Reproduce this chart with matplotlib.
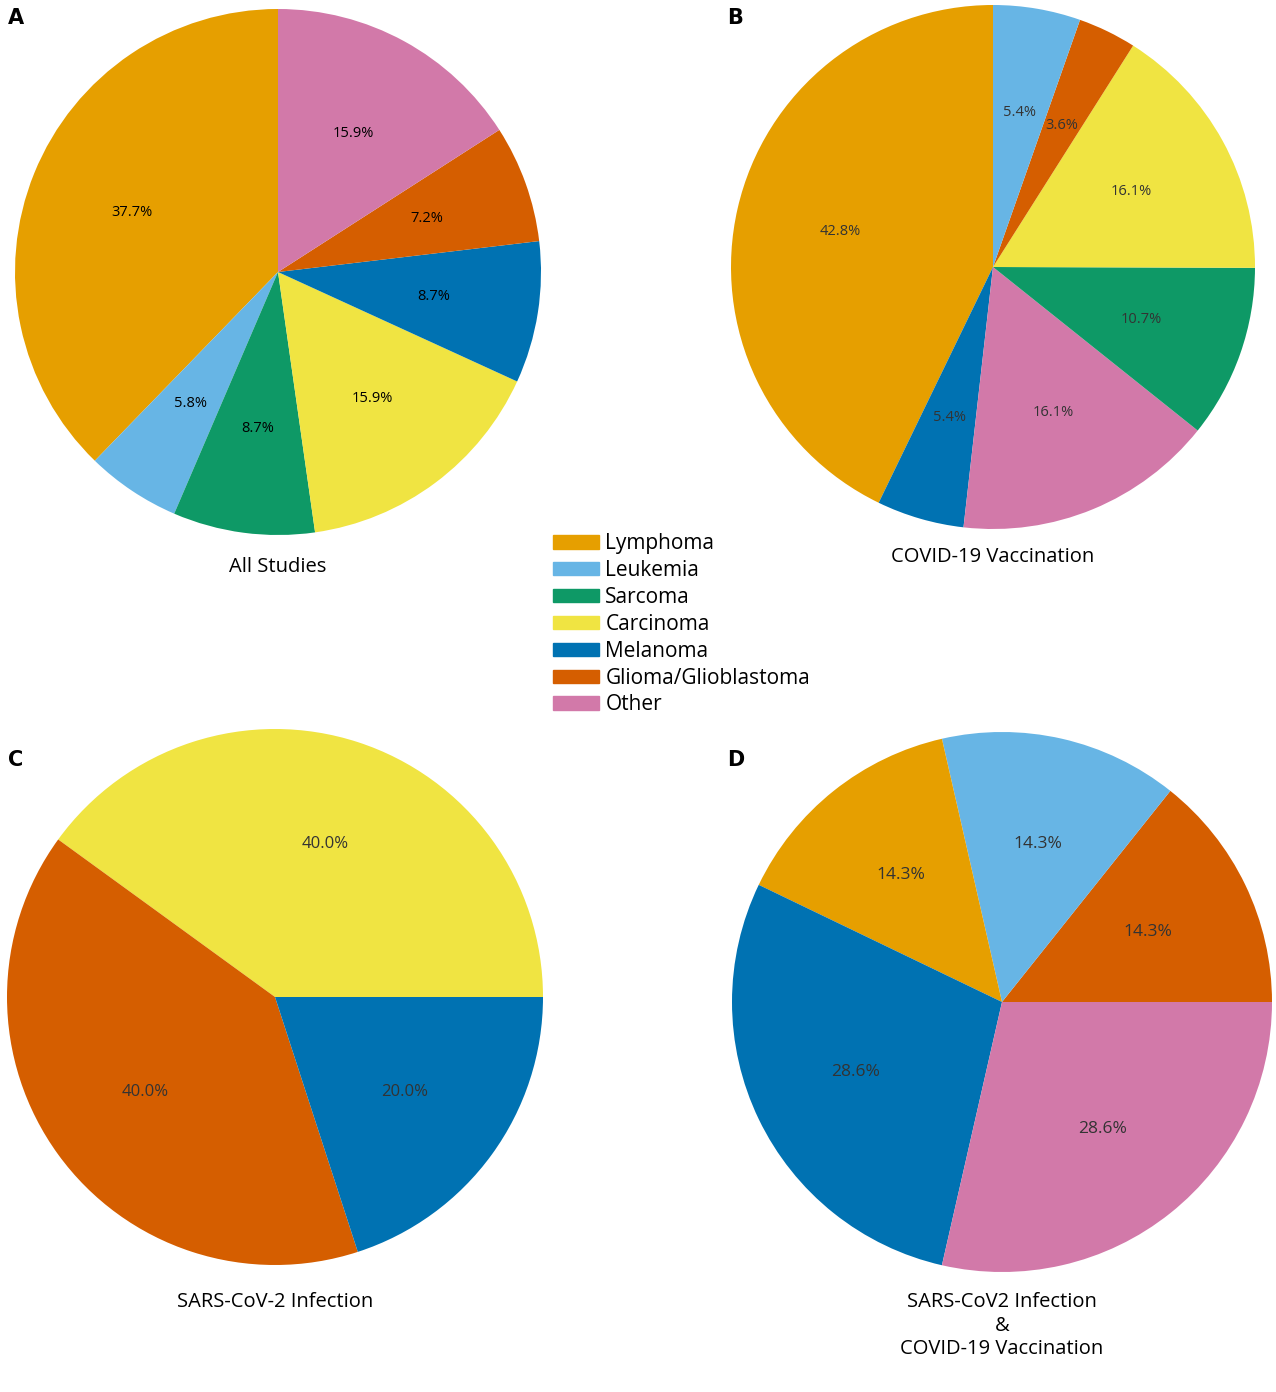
import matplotlib.pyplot as plt
from matplotlib.patches import Patch

plt.rcParams['font.family'] = ['Open Sans', 'DejaVu Sans']

W, H = 1276, 1392

types = ["Lymphoma", "Leukemia", "Sarcoma", "Carcinoma", "Melanoma", "Glioma/Glioblastoma", "Other"]
colores = {"Lymphoma": "#E69F00", "Leukemia": "#67B5E5", "Sarcoma": "#0E9966",
           "Carcinoma": "#F0E442", "Melanoma": "#0072B2",
           "Glioma/Glioblastoma": "#D55E00", "Other": "#D279A9"}

# panel A: all studies
a_cats = ["Lymphoma", "Leukemia", "Sarcoma", "Carcinoma", "Melanoma", "Glioma/Glioblastoma", "Other"]
a_vals = [37.7, 5.8, 8.7, 15.9, 8.7, 7.2, 15.9]
# panel B: vaccination
b_cats = ["Lymphoma", "Melanoma", "Other", "Sarcoma", "Carcinoma", "Glioma/Glioblastoma", "Leukemia"]
b_vals = [42.9, 5.4, 16.1, 10.7, 16.1, 3.6, 5.4]
# panel C: infection
c_cats = ["Carcinoma", "Glioma/Glioblastoma", "Melanoma"]
c_vals = [40.0, 40.0, 20.0]
# panel D: both
d_cats = ["Glioma/Glioblastoma", "Leukemia", "Lymphoma", "Melanoma", "Other"]
d_vals = [14.3, 14.3, 14.3, 28.6, 28.6]

fig = plt.figure(figsize=(W / 100, H / 100), dpi=100)

def pastel(cx, cy, r, cats, vals, start, fsize, tcolor, titulo, ty, letra, lx, ly):
    ax = fig.add_axes([(cx - r) / W, 1 - (cy + r) / H, 2 * r / W, 2 * r / H])
    ax.pie(vals, colors=[colores[c] for c in cats], startangle=start, radius=1,
           autopct='%1.1f%%', pctdistance=0.6,
           textprops={'fontsize': fsize, 'color': tcolor})
    ax.set_xlim(-1, 1)
    ax.set_ylim(-1, 1)
    ax.set_aspect('auto')
    ax.axis('off')
    fig.text(cx / W, 1 - ty / H, titulo, ha='center', va='top', fontsize=14.5, linespacing=1.25)
    fig.text(lx / W, 1 - ly / H, letra, ha='left', va='center', fontsize=15,
             fontweight='bold', family='DejaVu Sans')

pastel(278, 272, 263, a_cats, a_vals, 90, 10.5, 'black', "All Studies", 557, "A", 8, 18)
pastel(993, 267, 262, b_cats, b_vals, 90, 10.5, '#333333', "COVID-19 Vaccination", 547, "B", 727, 18)
pastel(275, 997, 268, c_cats, c_vals, 0, 12, '#333333', "SARS-CoV-2 Infection", 1292, "C", 8, 760)
pastel(1002, 1002, 270, d_cats, d_vals, 0, 12.5, '#333333',
       "SARS-CoV2 Infection\n&\nCOVID-19 Vaccination", 1292, "D", 727, 760)

handles = [Patch(color=colores[t], label=t) for t in types]
fig.legend(handles=handles, loc='upper left', bbox_to_anchor=(545 / W, 1 - 525 / H),
           frameon=False, fontsize=15, handlelength=2.2, handleheight=0.6,
           handletextpad=0.3, labelspacing=0.28, borderaxespad=0)

fig.savefig("out.png", dpi=100)
